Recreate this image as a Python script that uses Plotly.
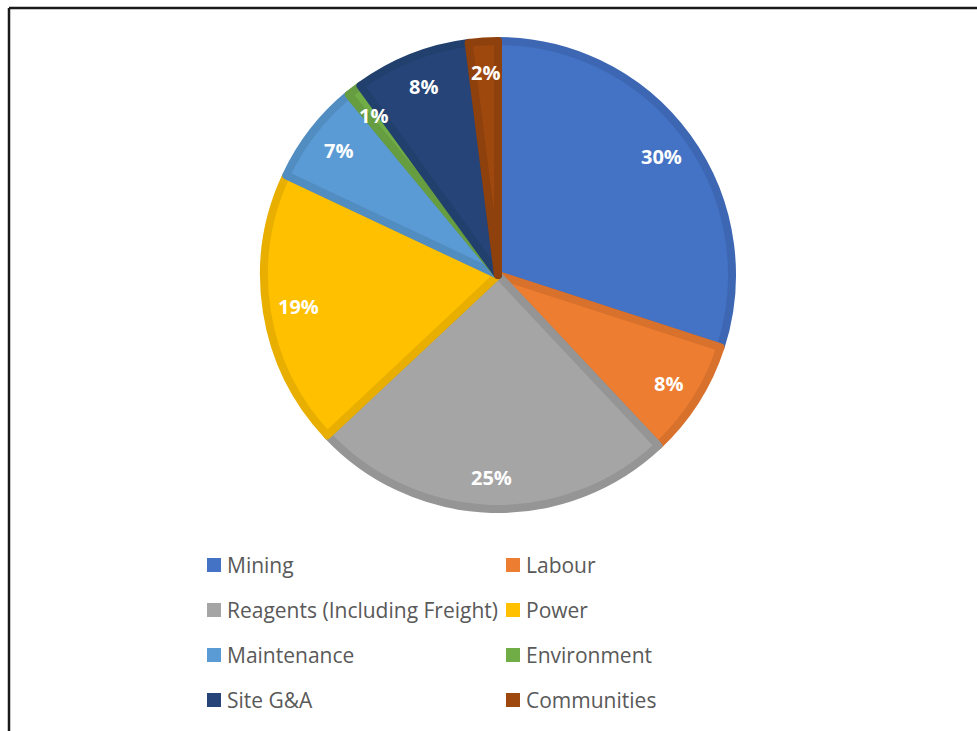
import math
import plotly.graph_objects as go

labels = ["Mining", "Labour", "Reagents (Including Freight)", "Power",
          "Maintenance", "Environment", "Site G&A", "Communities"]
values = [30, 8, 25, 19, 7, 1, 8, 2]
colors = ["#4472C4", "#ED7D31", "#A5A5A5", "#FFC000",
          "#5B9BD5", "#70AD47", "#264478", "#9E480E"]
border_colors = ["#3D67B3", "#D8712C", "#959595", "#E8AF00",
                 "#528DC2", "#659D40", "#22406E", "#8F410D"]

W, H = 977, 731
cx, cy, R = 498, 275, 234

fig = go.Figure(go.Pie(
    labels=labels, values=values, sort=False, direction="clockwise", rotation=0,
    marker=dict(colors=colors, line=dict(color=border_colors, width=8)),
    textinfo="none", hoverinfo="label+percent", showlegend=False,
    domain=dict(x=[(cx - R) / W, (cx + R) / W], y=[1 - (cy + R) / H, 1 - (cy - R) / H]),
))

annotations = []
total = sum(values)
cum = 0
for v in values:
    mid = (cum + v / 2) / total * 2 * math.pi
    cum += v
    r = 0.865 * R
    px = cx + r * math.sin(mid)
    py = cy - r * math.cos(mid)
    annotations.append(dict(
        x=px / W, y=1 - py / H, xref="paper", yref="paper",
        xanchor="center", yanchor="middle",
        text=f"<b>{round(v / total * 100)}%</b>", showarrow=False,
        font=dict(family="Open Sans", size=20, color="white"),
    ))

shapes = []
# legend (two columns, four rows)
col_x = [207, 506]
row_y = [565, 610, 655, 700]
for i, (lab, col) in enumerate(zip(labels, colors)):
    c, rw = i % 2, i // 2
    mx, my = col_x[c], row_y[rw]
    shapes.append(dict(type="rect", xref="paper", yref="paper",
                       x0=mx / W, x1=(mx + 14) / W,
                       y0=1 - (my + 7) / H, y1=1 - (my - 7) / H,
                       fillcolor=col, line=dict(width=0)))
    annotations.append(dict(
        x=(mx + 18) / W, y=1 - my / H, xref="paper", yref="paper",
        xanchor="left", yanchor="middle", text=lab, showarrow=False,
        font=dict(family="Open Sans", size=21, color="#595959"),
    ))

# frame lines
shapes.append(dict(type="line", xref="paper", yref="paper",
                   x0=9 / W, x1=1, y0=1 - 8 / H, y1=1 - 8 / H,
                   line=dict(color="#1a1a1a", width=2.5)))
shapes.append(dict(type="line", xref="paper", yref="paper",
                   x0=9 / W, x1=9 / W, y0=0, y1=1 - 8 / H,
                   line=dict(color="#1a1a1a", width=2.5)))

fig.update_layout(
    width=W, height=H, margin=dict(l=0, r=0, t=0, b=0),
    paper_bgcolor="white", plot_bgcolor="white",
    annotations=annotations, shapes=shapes,
)

fig.write_html("out.html")
